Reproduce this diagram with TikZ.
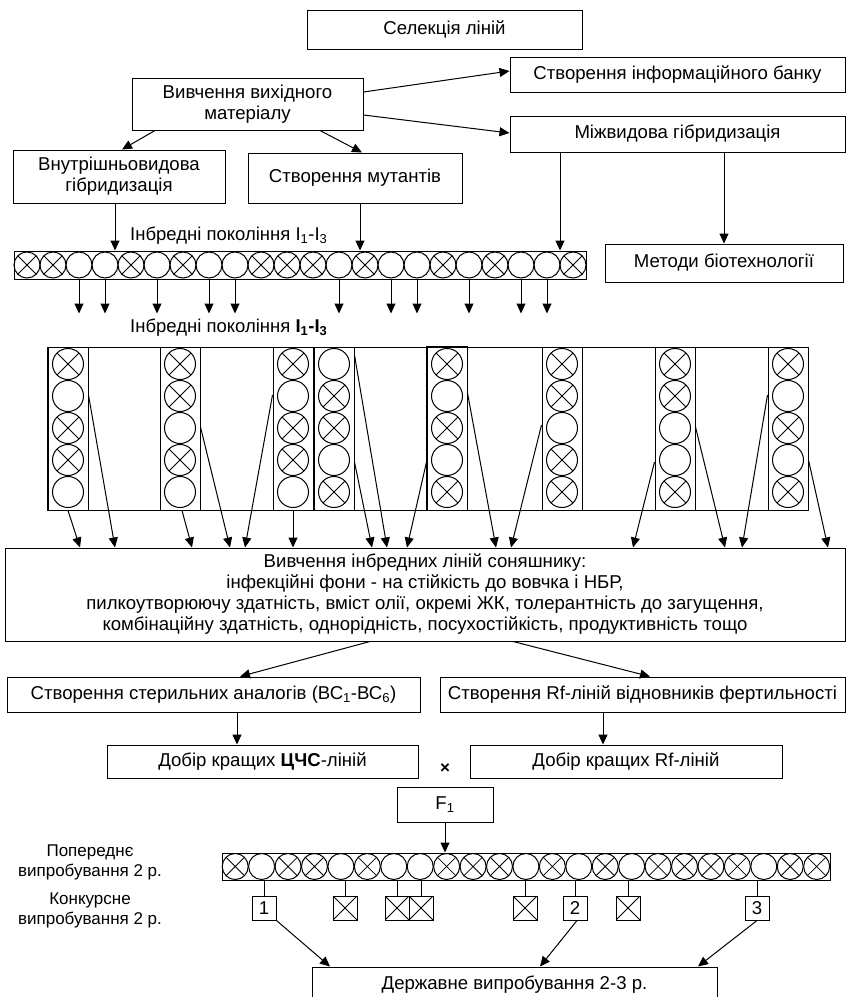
\documentclass[tikz,border=0pt]{standalone}
\usepackage{fontspec}
\setmainfont{Liberation Sans}
\usetikzlibrary{arrows.meta}
\newcommand\mainsz{\fontsize{18.6}{21}\selectfont}
\newcommand\smallsz{\fontsize{17}{20}\selectfont}
\newcommand\labsz{\fontsize{18.5}{21}\selectfont}
\tikzset{
  box/.style={draw, line width=1pt, align=center, inner sep=0pt, font=\mainsz},
  arr/.style={line width=1pt, -{Triangle[length=10pt,width=9pt]}},
  cel/.style={draw, circle, inner sep=0pt, line width=1pt},
  xmark/.style={path picture={\draw[line width=0.8pt] (path picture bounding box.north west) -- (path picture bounding box.south east) (path picture bounding box.north east) -- (path picture bounding box.south west);}},
  sq/.style={draw, minimum size=24pt, inner sep=0pt, line width=1pt, font=\mainsz},
  lbl/.style={inner sep=0pt, font=\smallsz, align=center},
}
\begin{document}
\begin{tikzpicture}[x=1pt,y=-1pt]
\useasboundingbox (0,0) rectangle (850,997);
% top boxes
\node[box, minimum width=275pt, minimum height=39pt] (sel) at (444.5,29.5) {Селекція ліній};
\node[box, minimum width=335pt, minimum height=35pt] (bank) at (677.5,75) {Створення інформаційного банку};
\node[box, minimum width=231pt, minimum height=52pt] (viv) at (247.5,104) {Вивчення вихідного\\матеріалу};
\node[box, minimum width=335pt, minimum height=36pt] (mizh) at (677.5,134) {Міжвидова гібридизація};
\node[box, minimum width=212pt, minimum height=53pt] (vnut) at (119,176.5) {Внутрішньовидова\\гібридизація};
\node[box, minimum width=214pt, minimum height=50pt] (mut) at (355,178) {Створення мутантів};
\node[box, minimum width=238pt, minimum height=38pt] (bio) at (724,263) {Методи біотехнології};
% arrows from viv
\draw[arr] (viv.east |- 0,92) -- (bank.west |- 0,71);
\draw[arr] (viv.east |- 0,115) -- (mizh.west |- 0,133);
\draw[arr] (155,0 |- viv.south) -- (122,0 |- vnut.north);
\draw[arr] (320,0 |- viv.south) -- (362,0 |- mut.north);
% first row
\node[draw, line width=1pt, minimum width=572pt, minimum height=28pt, inner sep=0pt] (row1) at (300,265) {};
\foreach \v [count=\k from 0] in {1,1,0,0,1,0,1,0,0,1,1,1,0,1,0,0,1,0,1,0,0,1} {
  \ifnum\v=1
    \node[cel, xmark, minimum size=26pt] (a\k) at ({27+26*\k},265) {};
  \else
    \node[cel, minimum size=26pt] (a\k) at ({27+26*\k},265) {};
  \fi
}
\draw[arr] (115,0 |- vnut.south) -- (115,0 |- row1.north);
\draw[arr] (360,0 |- mut.south) -- (360,0 |- row1.north);
\draw[arr] (560,0 |- mizh.south) -- (560,0 |- row1.north);
\draw[arr] (mizh.south -| bio.north) -- (bio.north);
\node[inner sep=0pt, font=\labsz, anchor=west] (lab1) at (130,236) {Інбредні покоління I\textsubscript{1}-I\textsubscript{3}};
\foreach \k in {2,3,5,7,8,12,14,15,17,19,20} {
  \draw[arr] (a\k.south |- row1.south) -- ++(0,34);
}
\node[inner sep=0pt, font=\labsz, anchor=west] (lab2) at (130,328) {Інбредні покоління \textbf{І\textsubscript{1}-І\textsubscript{3}}};
% block of columns
\node[draw, line width=1pt, minimum width=761pt, minimum height=163pt, inner sep=0pt] (blk) at (427.5,428.5) {};
\foreach \c/\lx/\pat in {1/48/{1,0,1,1,0}, 2/160/{1,1,0,1,0}, 3/273/{1,0,1,1,0}, 4/314/{0,1,1,0,1}, 5/427/{1,0,1,0,1}, 6/542/{1,1,0,1,1}, 7/655/{1,1,0,0,1}, 8/768/{1,0,1,0,1}} {
  \node[draw, line width=1pt, minimum width=40pt, minimum height=163pt, inner sep=0pt] (col\c) at ({\lx+20},428.5) {};
  \foreach \v [count=\j from 0] in \pat {
    \ifnum\v=1
      \node[cel, xmark, minimum size=31pt] (b\c-\j) at ({\lx+20},{364+32*\j}) {};
    \else
      \node[cel, minimum size=31pt] (b\c-\j) at ({\lx+20},{364+32*\j}) {};
    \fi
  }
}
\draw[line width=1.8pt] (col5.north west) rectangle (col5.south east);
% big box
\node[box, minimum width=840pt, minimum height=93pt] (big) at (425,594.5) {Вивчення інбредних ліній соняшнику:\\інфекційні фони - на стійкість до вовчка і НБР,\\пилкоутворюючу здатність, вміст олії, окремі ЖК, толерантність до загущення,\\комбінаційну здатність, однорідність, посухостійкість, продуктивність тощо};
\draw[arr] (col1.south) -- (80,0 |- big.north);
\draw[arr] (col1.east |- 0,395) -- (115,0 |- big.north);
\draw[arr] (182,0 |- col2.south) -- (192,0 |- big.north);
\draw[arr] (col2.east |- 0,427) -- (230,0 |- big.north);
\draw[arr] (col3.west |- 0,395) -- (245,0 |- big.north);
\draw[arr] (col3.south) -- (col3.south |- big.north);
\draw[arr] (col4.east |- 0,462) -- (372,0 |- big.north);
\draw[arr] (col4.east |- 0,355) -- (387,0 |- big.north);
\draw[arr] (col5.west |- 0,462) -- (407,0 |- big.north);
\draw[arr] (col5.east |- 0,393) -- (496,0 |- big.north);
\draw[arr] (col6.west |- 0,425) -- (511,0 |- big.north);
\draw[arr] (col7.west |- 0,462) -- (633,0 |- big.north);
\draw[arr] (col7.east |- 0,427) -- (725,0 |- big.north);
\draw[arr] (col8.west |- 0,395) -- (742,0 |- big.north);
\draw[arr] (col8.east |- 0,460) -- (828,0 |- big.north);
% lower boxes
\node[box, minimum width=413pt, minimum height=35pt] (ster) at (213.5,694.5) {Створення стерильних аналогів (ВС\textsubscript{1}-ВС\textsubscript{6})};
\node[box, minimum width=405pt, minimum height=35pt] (rf) at (642.5,694.5) {Створення Rf-ліній відновників фертильності};
\draw[arr] (370,0 |- big.south) -- (240,0 |- ster.north);
\draw[arr] (513,0 |- big.south) -- (650,0 |- rf.north);
\node[box, minimum width=311pt, minimum height=33pt] (dob1) at (262.5,761.5) {Добір кращих \textbf{ЦЧС}-ліній};
\node[box, minimum width=312pt, minimum height=33pt] (dob2) at (626,761.5) {Добір кращих Rf-ліній};
\draw[arr] (237,0 |- ster.south) -- (237,0 |- dob1.north);
\draw[arr] (603,0 |- rf.south) -- (603,0 |- dob2.north);
\node[inner sep=0pt, font=\smallsz\bfseries] (cross) at (445,769) {×};
\node[box, minimum width=96pt, minimum height=35pt] (f1) at (445,804.5) {F\textsubscript{1}};
% bottom row
\node[draw, line width=1pt, minimum width=608pt, minimum height=27pt, inner sep=0pt] (row2) at (526,866.5) {};
\foreach \v [count=\k from 0] in {1,0,1,1,0,1,0,0,1,1,1,0,1,0,1,0,1,1,1,1,0,1,1} {
  \ifnum\v=1
    \node[cel, xmark, minimum size=26pt] (d\k) at ({235.2+26.43*\k},866.5) {};
  \else
    \node[cel, minimum size=26pt] (d\k) at ({235.2+26.43*\k},866.5) {};
  \fi
}
\draw[arr] (f1.south) -- (f1.south |- row2.north);
\node[sq] (s1) at (264,908) {1};
\node[sq, xmark] (s2) at (345,908) {};
\node[sq, xmark] (s3) at (397,908) {};
\node[sq, xmark] (s4) at (421,908) {};
\node[sq, xmark] (s5) at (525,908) {};
\node[sq] (s6) at (575,908) {2};
\node[sq, xmark] (s7) at (628,908) {};
\node[sq] (s8) at (757,908) {3};
\foreach \s in {1,...,8} {
  \draw[line width=1pt] (s\s.north |- row2.south) -- (s\s.north);
}
\node[box, minimum width=405pt, minimum height=35pt] (der) at (514.5,984.5) {Державне випробування 2-3 р.};
\draw[arr] (s1.south east) -- (330,0 |- der.north);
\draw[arr] (577,0 |- s6.south) -- (540,0 |- der.north);
\draw[arr] (s8.south) -- (698,0 |- der.north);
\node[lbl] (pop) at (90,862) {Попереднє\\випробування 2 р.};
\node[lbl] (kon) at (90,910) {Конкурсне\\випробування 2 р.};
\end{tikzpicture}
\end{document}
